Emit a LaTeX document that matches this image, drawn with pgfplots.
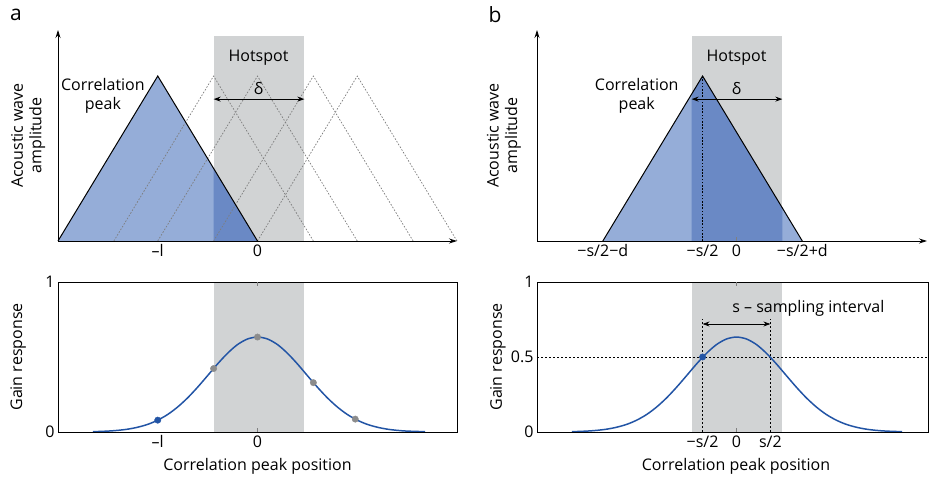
\documentclass[border=0pt]{standalone}
\usepackage{pgfplots}
\pgfplotsset{compat=1.18}
\usetikzlibrary{arrows.meta}
\usepackage{fontspec}
\setmainfont{Open Sans}
\definecolor{lightblue}{RGB}{149,173,216}
\definecolor{darkblue}{RGB}{106,137,197}
\definecolor{hot}{RGB}{209,211,212}
\definecolor{curveblue}{RGB}{34,84,165}
\definecolor{dotgray}{RGB}{140,140,140}
\definecolor{dashgray}{RGB}{125,125,125}
\newcommand{\fs}{\fontsize{16}{18.5}\selectfont}
\pgfplotsset{
  common/.style={scale only axis, clip=false, axis on top,
    font=\fs, tick label style={font=\fs}, label style={font=\fs},
    major tick length=0pt, axis line style={line width=0.8pt}},
  toppanel/.style={common, axis lines=left,
    axis line style={line width=0.8pt,-{Stealth[length=8pt,width=5pt]}},
    ymin=0, ymax=1.279, ytick=\empty,
    ylabel style={at={(axis description cs:-0.075,0.5)},anchor=center,align=center}},
  botpanel/.style={common, ymin=0, ymax=1,
    extra x ticks={0}, extra x tick labels={},
    extra x tick style={major tick length=4pt, tick align=inside},
    ylabel={Gain response},
    ylabel style={at={(axis description cs:-0.1,0.5)},anchor=center},
    xlabel={Correlation peak position}},
  dashtri/.style={dashgray, line width=0.7pt, dash pattern=on 1.6pt off 1.6pt},
}
\begin{document}
\begin{tikzpicture}
\path[use as bounding box] (0,0) rectangle (930pt,482pt);
\node[font=\fontsize{21}{24}\selectfont] at (16pt,467pt) {a};
\node[font=\fontsize{21}{24}\selectfont] at (495pt,467pt) {b};

% ---------- a top ----------
\begin{axis}[toppanel, at={(58pt,241pt)}, anchor=south west,
  width=399pt, height=211pt, xmin=-2, xmax=2,
  xtick={-1,0}, xticklabels={–l,0},
  ylabel={Acoustic wave\\amplitude}]
\addplot[fill=hot, draw=none] coordinates {(-0.44,1.24) (0.47,1.24)} \closedcycle;
\addplot[fill=lightblue, draw=none] coordinates {(-2,0) (-1,1) (0,0)} \closedcycle;
\addplot[fill=darkblue, draw=none] coordinates {(-0.44,0) (-0.44,0.44) (0,0)} \closedcycle;
\addplot[dashtri] coordinates {(-1.44,0) (-0.44,1) (0.56,0)};
\addplot[dashtri] coordinates {(-1,0) (0,1) (1,0)};
\addplot[dashtri] coordinates {(-0.44,0) (0.56,1) (1.56,0)};
\addplot[dashtri] coordinates {(0,0) (1,1) (2,0)};
\addplot[black, line width=1pt] coordinates {(-2,0) (-1,1) (0,0)};
\addplot[black, line width=1pt, {Stealth[length=7pt,width=5pt]}-{Stealth[length=7pt,width=5pt]}] coordinates {(-0.44,0.86) (0.47,0.86)};
\node at (axis cs:0.01,1.11) {Hotspot};
\node at (axis cs:0.01,0.925) {δ};
\node[align=center] at (axis cs:-1.55,0.88) {Correlation\\peak};
\end{axis}

% ---------- a bottom ----------
\begin{axis}[botpanel, at={(58pt,50pt)}, anchor=south west,
  width=399pt, height=150pt, xmin=-2, xmax=2,
  xtick={-1,0}, xticklabels={–l,0},
  ytick={0,1}, yticklabels={0,1},
  xlabel style={at={(axis description cs:0.5,-0.227)},anchor=center}]
\addplot[fill=hot, draw=none] coordinates {(-0.44,1) (0.47,1)} \closedcycle;
\addplot[curveblue, line width=1.5pt, smooth] coordinates {
(-1.65,0.002) (-1.5,0.006) (-1.4,0.011) (-1.3,0.019) (-1.2,0.032) (-1.1,0.051)
(-1.0,0.079) (-0.9,0.117) (-0.8,0.167) (-0.7,0.228) (-0.6,0.299) (-0.5,0.376)
(-0.4,0.454) (-0.3,0.525) (-0.2,0.583) (-0.1,0.620) (0,0.633)
(0.1,0.620) (0.2,0.583) (0.3,0.525) (0.4,0.454) (0.5,0.376) (0.6,0.299)
(0.7,0.228) (0.8,0.167) (0.9,0.117) (1.0,0.079) (1.1,0.051) (1.2,0.032)
(1.3,0.019) (1.4,0.011) (1.5,0.006) (1.68,0.002)};
\addplot[only marks, mark=*, mark size=3.2pt, dotgray] coordinates {(-0.44,0.423) (0,0.633) (0.56,0.329) (0.98,0.086)};
\addplot[only marks, mark=*, mark size=3.2pt, curveblue] coordinates {(-1,0.079)};
\end{axis}

% ---------- b top ----------
\begin{axis}[toppanel, at={(537pt,241pt)}, anchor=south west,
  width=390pt, height=211pt, xmin=-2, xmax=1.91,
  xtick={-1.34,-0.34,0,0.66}, xticklabels={−s/2−d,−s/2,0,−s/2+d},
  extra x ticks={0}, extra x tick labels={},
  extra x tick style={major tick length=4pt, tick align=inside},
  ylabel={Acoustic wave\\amplitude},
  ylabel style={at={(axis description cs:-0.085,0.5)}}]
\addplot[fill=hot, draw=none] coordinates {(-0.45,1.24) (0.46,1.24)} \closedcycle;
\addplot[fill=lightblue, draw=none] coordinates {(-1.34,0) (-0.34,1) (0.66,0)} \closedcycle;
\addplot[fill=darkblue, draw=none] coordinates {(-0.45,0) (-0.45,0.89) (-0.34,1) (0.46,0.2) (0.46,0)} \closedcycle;
\addplot[black, line width=0.9pt, dash pattern=on 1.6pt off 1.6pt] coordinates {(-0.34,0) (-0.34,1)};
\addplot[black, line width=1pt] coordinates {(-1.34,0) (-0.34,1) (0.66,0)};
\addplot[black, line width=1pt, {Stealth[length=7pt,width=5pt]}-{Stealth[length=7pt,width=5pt]}] coordinates {(-0.45,0.86) (0.46,0.86)};
\node at (axis cs:0,1.11) {Hotspot};
\node at (axis cs:0,0.925) {δ};
\node[align=center] at (axis cs:-1.0,0.88) {Correlation\\peak};
\end{axis}

% ---------- b bottom ----------
\begin{axis}[botpanel, at={(537pt,50pt)}, anchor=south west,
  width=391pt, height=150pt, xmin=-2, xmax=1.92,
  xtick={-0.34,0,0.34}, xticklabels={−s/2,0,s/2},
  ytick={0,0.5,1}, yticklabels={0,0.5,1},
  xlabel style={at={(axis description cs:0.509,-0.227)},anchor=center}]
\addplot[fill=hot, draw=none] coordinates {(-0.45,1) (0.46,1)} \closedcycle;
\addplot[black, line width=0.8pt, dash pattern=on 2pt off 2pt] coordinates {(-2,0.5) (1.92,0.5)};
\addplot[black, line width=0.8pt, dash pattern=on 2pt off 2pt] coordinates {(-0.34,0) (-0.34,0.753)};
\addplot[black, line width=0.8pt, dash pattern=on 2pt off 2pt] coordinates {(0.34,0) (0.34,0.753)};
\addplot[black, line width=0.8pt, {Stealth[length=7pt,width=5pt]}-{Stealth[length=7pt,width=5pt]}] coordinates {(-0.34,0.72) (0.34,0.72)};
\addplot[curveblue, line width=1.5pt, smooth] coordinates {
(-1.65,0.002) (-1.5,0.006) (-1.4,0.011) (-1.3,0.019) (-1.2,0.032) (-1.1,0.051)
(-1.0,0.079) (-0.9,0.117) (-0.8,0.167) (-0.7,0.228) (-0.6,0.299) (-0.5,0.376)
(-0.4,0.454) (-0.3,0.525) (-0.2,0.583) (-0.1,0.620) (0,0.633)
(0.1,0.620) (0.2,0.583) (0.3,0.525) (0.4,0.454) (0.5,0.376) (0.6,0.299)
(0.7,0.228) (0.8,0.167) (0.9,0.117) (1.0,0.079) (1.1,0.051) (1.2,0.032)
(1.3,0.019) (1.4,0.011) (1.5,0.006) (1.66,0.002)};
\addplot[only marks, mark=*, mark size=3.2pt, curveblue] coordinates {(-0.34,0.5)};
\node at (axis cs:0.72,0.827) {s – sampling interval};
\end{axis}
\end{tikzpicture}
\end{document}
